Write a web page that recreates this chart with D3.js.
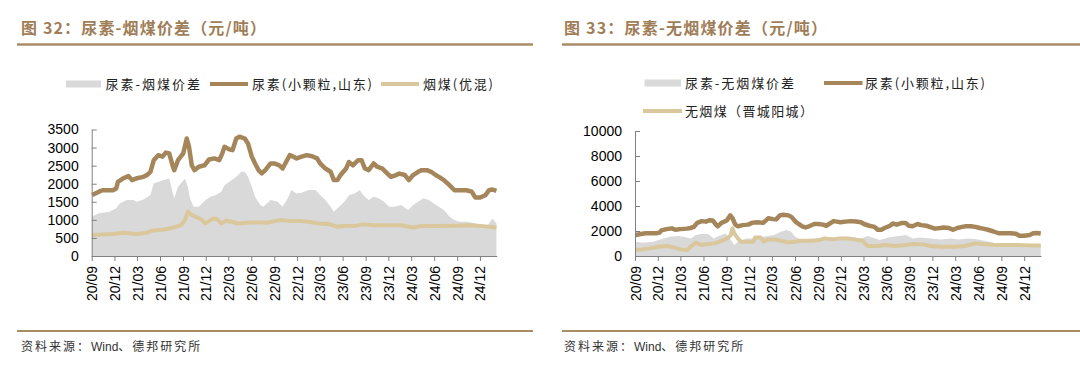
<!DOCTYPE html>
<html>
<head>
<meta charset="utf-8">
<script src="https://cdn.jsdelivr.net/npm/d3@7"></script>
<style>
  body { margin: 0; background: #fff; }
  svg { display: block; }
  .axis text { font-family: "Liberation Sans", Arial, sans-serif; font-size: 14px; fill: #000; }
  .axis path, .axis line { stroke: #808080; }
  .cjk { font-family: "Noto Sans CJK SC", sans-serif; }
</style>
</head>
<body>
<svg id="chart" width="1080" height="378"></svg>
<script>
(function (d3) {
  'use strict';

  // x 轴季度刻度
  const tickLabels = ['20/09', '20/12', '21/03', '21/06', '21/09', '21/12', '22/03', '22/06',
    '22/09', '22/12', '23/03', '23/06', '23/09', '23/12', '24/03', '24/06', '24/09', '24/12'];

  // 尿素(小颗粒,山东) — 两张图共用
  const ureaShandong = [
    ['2020-09-03', 1685], ['2020-09-30', 1780], ['2020-10-14', 1820], ['2020-11-25', 1820],
    ['2020-12-08', 1870], ['2020-12-15', 2050], ['2021-01-05', 2150], ['2021-01-26', 2210],
    ['2021-02-09', 2100], ['2021-02-28', 2150], ['2021-03-27', 2190], ['2021-04-10', 2240],
    ['2021-04-24', 2330], ['2021-05-07', 2650], ['2021-05-25', 2790], ['2021-06-11', 2750],
    ['2021-06-24', 2860], ['2021-07-08', 2840], ['2021-07-21', 2510], ['2021-07-28', 2375],
    ['2021-08-12', 2650], ['2021-09-02', 2840], ['2021-09-16', 3250], ['2021-09-25', 3020],
    ['2021-10-06', 2510], ['2021-10-17', 2375], ['2021-11-03', 2470], ['2021-11-26', 2510],
    ['2021-12-14', 2670], ['2022-01-04', 2700], ['2022-01-24', 2650], ['2022-02-05', 2840],
    ['2022-02-14', 3020], ['2022-03-05', 2950], ['2022-03-18', 2930], ['2022-04-02', 3250],
    ['2022-04-15', 3300], ['2022-05-06', 3250], ['2022-05-19', 3110], ['2022-06-03', 2750],
    ['2022-06-16', 2560], ['2022-06-30', 2375], ['2022-07-13', 2285], ['2022-07-27', 2375],
    ['2022-08-17', 2560], ['2022-09-01', 2560], ['2022-09-21', 2510], ['2022-10-04', 2420],
    ['2022-10-18', 2600], ['2022-11-02', 2790], ['2022-11-15', 2750], ['2022-11-29', 2700],
    ['2022-12-19', 2750], ['2023-01-09', 2790], ['2023-01-30', 2760], ['2023-02-19', 2700],
    ['2023-03-03', 2560], ['2023-03-24', 2420], ['2023-04-14', 2330], ['2023-04-27', 2100],
    ['2023-05-11', 2100], ['2023-05-24', 2240], ['2023-06-15', 2420], ['2023-06-26', 2600],
    ['2023-07-12', 2510], ['2023-08-02', 2650], ['2023-08-16', 2650], ['2023-08-29', 2420],
    ['2023-09-13', 2375], ['2023-10-03', 2560], ['2023-10-17', 2470], ['2023-11-07', 2420],
    ['2023-11-20', 2330], ['2023-12-11', 2190], ['2024-01-01', 2240], ['2024-01-14', 2280],
    ['2024-02-05', 2240], ['2024-02-21', 2100], ['2024-03-09', 2240], ['2024-03-29', 2330],
    ['2024-04-12', 2375], ['2024-05-03', 2375], ['2024-05-20', 2330], ['2024-06-07', 2240],
    ['2024-06-20', 2190], ['2024-07-10', 2100], ['2024-08-01', 1960], ['2024-08-21', 1820],
    ['2024-09-11', 1820], ['2024-10-08', 1820], ['2024-10-29', 1780], ['2024-11-12', 1620],
    ['2024-12-02', 1620], ['2024-12-23', 1685], ['2025-01-06', 1820], ['2025-01-20', 1840],
    ['2025-02-05', 1800]
  ];

  // 烟煤(优混)
  const bituminousCoal = [
    ['2020-09-03', 580], ['2020-11-25', 610], ['2021-01-05', 645], ['2021-02-28', 610],
    ['2021-04-10', 645], ['2021-04-30', 700], ['2021-06-17', 735], ['2021-07-28', 790],
    ['2021-08-25', 855], ['2021-09-09', 995], ['2021-09-20', 1225], ['2021-10-06', 1130],
    ['2021-10-26', 1070], ['2021-11-16', 995], ['2021-11-30', 900], ['2021-12-20', 995],
    ['2022-01-04', 1040], ['2022-01-17', 1010], ['2022-02-01', 900], ['2022-02-21', 975],
    ['2022-03-18', 940], ['2022-04-09', 900], ['2022-05-13', 920], ['2022-06-10', 930],
    ['2022-07-07', 930], ['2022-08-04', 920], ['2022-09-01', 965], ['2022-09-28', 995],
    ['2022-11-08', 965], ['2022-12-19', 965], ['2023-01-16', 950], ['2023-02-26', 900],
    ['2023-04-07', 885], ['2023-05-11', 810], ['2023-06-01', 830], ['2023-07-25', 840],
    ['2023-08-22', 875], ['2023-10-03', 850], ['2023-11-27', 850], ['2024-01-21', 850],
    ['2024-02-18', 810], ['2024-03-09', 790], ['2024-04-12', 830], ['2024-06-20', 830],
    ['2024-08-28', 840], ['2024-10-22', 850], ['2024-12-02', 830], ['2025-02-05', 790]
  ];

  // 尿素-烟煤价差
  const spreadBituminous = [
    ['2020-09-03', 1090], ['2020-09-30', 1180], ['2020-11-11', 1225], ['2020-12-08', 1320],
    ['2020-12-22', 1455], ['2021-01-19', 1550], ['2021-02-15', 1550], ['2021-02-28', 1500],
    ['2021-03-27', 1565], ['2021-04-24', 1685], ['2021-05-07', 2010], ['2021-05-28', 2055],
    ['2021-06-17', 2100], ['2021-07-08', 2145], ['2021-07-21', 1780], ['2021-07-28', 1595],
    ['2021-08-12', 1915], ['2021-09-09', 2145], ['2021-09-20', 1915], ['2021-09-29', 1595],
    ['2021-10-13', 1365], ['2021-11-03', 1365], ['2021-11-30', 1550], ['2021-12-20', 1640],
    ['2022-01-11', 1685], ['2022-02-01', 1780], ['2022-02-14', 1960], ['2022-03-05', 2055],
    ['2022-04-02', 2190], ['2022-04-22', 2330], ['2022-05-06', 2330], ['2022-05-19', 2190],
    ['2022-06-03', 1915], ['2022-06-16', 1640], ['2022-07-07', 1410], ['2022-07-20', 1365],
    ['2022-08-17', 1550], ['2022-09-14', 1500], ['2022-10-04', 1365], ['2022-10-25', 1595],
    ['2022-11-08', 1825], ['2022-11-29', 1730], ['2022-12-19', 1750], ['2023-01-16', 1825],
    ['2023-02-13', 1825], ['2023-03-03', 1685], ['2023-03-24', 1550], ['2023-04-14', 1365],
    ['2023-04-27', 1225], ['2023-05-18', 1365], ['2023-06-08', 1500], ['2023-06-28', 1685],
    ['2023-07-19', 1730], ['2023-08-09', 1825], ['2023-08-22', 1685], ['2023-09-13', 1550],
    ['2023-10-03', 1640], ['2023-10-23', 1595], ['2023-11-14', 1500], ['2023-12-04', 1365],
    ['2023-12-24', 1365], ['2024-01-21', 1410], ['2024-02-18', 1270], ['2024-03-09', 1410],
    ['2024-03-29', 1500], ['2024-04-19', 1595], ['2024-05-10', 1550], ['2024-05-30', 1455],
    ['2024-06-20', 1365], ['2024-07-10', 1270], ['2024-08-01', 1090], ['2024-08-21', 995],
    ['2024-09-11', 950], ['2024-10-08', 950], ['2024-11-16', 900], ['2024-11-30', 765],
    ['2024-12-27', 765], ['2025-01-06', 900], ['2025-01-20', 1040], ['2025-02-05', 900]
  ];

  // 无烟煤（晋城阳城）
  const anthraciteCoal = [
    ['2020-09-01', 480], ['2020-10-01', 530], ['2020-10-28', 610], ['2020-12-02', 745],
    ['2021-01-06', 800], ['2021-02-03', 690], ['2021-03-01', 530], ['2021-03-28', 480],
    ['2021-04-11', 745], ['2021-05-02', 1065], ['2021-05-23', 880], ['2021-06-20', 960],
    ['2021-07-17', 1010], ['2021-08-14', 1225], ['2021-09-05', 1410], ['2021-09-18', 1675],
    ['2021-09-25', 2210], ['2021-10-02', 1810], ['2021-10-16', 1410], ['2021-10-29', 1145],
    ['2021-11-20', 1145], ['2021-12-17', 1145], ['2021-12-24', 1490], ['2022-01-14', 1490],
    ['2022-01-28', 1145], ['2022-02-11', 1330], ['2022-03-09', 1330], ['2022-04-06', 1225],
    ['2022-05-04', 1090], ['2022-06-01', 1145], ['2022-06-28', 1225], ['2022-08-09', 1225],
    ['2022-09-06', 1275], ['2022-09-27', 1410], ['2022-11-01', 1330], ['2022-11-28', 1410],
    ['2022-12-25', 1410], ['2023-01-23', 1330], ['2023-02-26', 1225], ['2023-03-17', 800],
    ['2023-04-28', 800], ['2023-05-25', 880], ['2023-07-06', 800], ['2023-08-17', 880],
    ['2023-09-14', 960], ['2023-10-25', 930], ['2023-11-23', 800], ['2024-01-04', 745],
    ['2024-02-28', 745], ['2024-04-09', 800], ['2024-05-20', 1010], ['2024-06-17', 960],
    ['2024-07-28', 905], ['2024-09-09', 880], ['2024-11-04', 880], ['2024-12-28', 850],
    ['2025-02-05', 850]
  ];

  // 尿素-无烟煤价差
  const spreadAnthracite = [
    ['2020-09-01', 1145], ['2020-10-01', 1065], ['2020-11-12', 1145], ['2020-12-23', 1410],
    ['2021-01-20', 1540], ['2021-02-17', 1600], ['2021-03-14', 1540], ['2021-04-11', 1410],
    ['2021-05-02', 1675], ['2021-05-23', 1755], ['2021-06-20', 1755], ['2021-07-11', 1410],
    ['2021-08-01', 1600], ['2021-08-28', 1810], ['2021-09-18', 1275], ['2021-10-02', 880],
    ['2021-10-16', 1145], ['2021-11-20', 1410], ['2021-12-17', 1410], ['2022-01-14', 1490],
    ['2022-02-11', 1600], ['2022-03-09', 1675], ['2022-04-06', 1940], ['2022-04-27', 2075],
    ['2022-05-17', 1940], ['2022-06-01', 1540], ['2022-06-28', 1275], ['2022-08-09', 1410],
    ['2022-09-20', 1275], ['2022-10-17', 1490], ['2022-11-28', 1540], ['2023-01-09', 1540],
    ['2023-02-20', 1410], ['2023-03-17', 1600], ['2023-04-08', 1465], ['2023-05-05', 1275],
    ['2023-06-09', 1490], ['2023-07-20', 1600], ['2023-08-17', 1675], ['2023-09-14', 1410],
    ['2023-10-12', 1490], ['2023-11-23', 1410], ['2024-01-04', 1330], ['2024-02-14', 1410],
    ['2024-03-12', 1330], ['2024-04-23', 1410], ['2024-05-20', 1355], ['2024-07-01', 1195],
    ['2024-08-12', 1010], ['2024-09-23', 930], ['2024-11-04', 880], ['2024-12-01', 745],
    ['2024-12-28', 800], ['2025-01-26', 1010], ['2025-02-05', 930]
  ];

  const COLORS = {
    spread: '#d9d9d9',
    urea: '#a5865b',
    coal: '#dac89c',
    title: '#9f7e58',
    rule: '#a98c68',
    text: '#222'
  };

  const parseDate = d3.timeParse('%Y-%m-%d');
  const parseTick = d3.timeParse('%y/%m');
  const X_DOMAIN = [parseDate('2020-09-01'), parseDate('2025-02-06')];
  const BASE_Y = 256;

  const svg = d3.select('#chart');

  const legendItem = (g, kind, x1, x2, y, label, textX, textLen) => {
    if (kind === 'area') {
      g.append('rect').attr('x', x1).attr('y', y - 3.5).attr('width', x2 - x1).attr('height', 7)
        .attr('fill', COLORS.spread);
    } else {
      g.append('line').attr('x1', x1).attr('x2', x2).attr('y1', y).attr('y2', y)
        .attr('stroke', COLORS[kind]).attr('stroke-width', 4);
    }
    g.append('text').attr('class', 'cjk').attr('x', textX).attr('y', y).attr('dy', '0.36em')
      .attr('font-size', 13).attr('fill', COLORS.text)
      .attr('textLength', textLen).attr('lengthAdjust', 'spacing')
      .text(label);
  };

  const drawPanel = (opts) => {
    const g = svg.append('g');

    // 标题 + 上下分隔线
    g.append('text').attr('class', 'cjk').attr('x', opts.titleX).attr('y', 34)
      .attr('font-size', 16).attr('font-weight', 'bold').attr('fill', COLORS.title)
      .attr('textLength', opts.titleLen).attr('lengthAdjust', 'spacing')
      .text(opts.title);
    g.append('line').attr('x1', opts.ruleX[0]).attr('x2', opts.ruleX[1]).attr('y1', 44.5).attr('y2', 44.5)
      .attr('stroke', COLORS.rule).attr('stroke-width', 2.5);
    g.append('line').attr('x1', opts.ruleX[0]).attr('x2', opts.ruleX[1]).attr('y1', 331).attr('y2', 331)
      .attr('stroke', COLORS.rule).attr('stroke-width', 2);

    const src = g.append('text').attr('class', 'cjk').attr('x', opts.titleX).attr('y', 351)
      .attr('font-size', 12).attr('fill', '#333');
    src.append('tspan').attr('letter-spacing', 2).text('资料来源：');
    src.append('tspan').attr('font-family', '"Liberation Sans", Arial, sans-serif').text('Wind');
    src.append('tspan').attr('letter-spacing', 2).text('、德邦研究所');

    opts.legend.forEach(l => legendItem(g, ...l));

    const x = d3.scaleTime().domain(X_DOMAIN).range([opts.left, opts.right]);
    const y = d3.scaleLinear().domain([0, opts.yMax]).range([BASE_Y, opts.top]);

    const area = d3.area()
      .x(d => x(parseDate(d[0])))
      .y0(y(0))
      .y1(d => y(d[1]));
    const line = d3.line()
      .x(d => x(parseDate(d[0])))
      .y(d => y(d[1]));

    g.append('path').datum(opts.spread).attr('d', area).attr('fill', COLORS.spread);
    g.append('path').datum(opts.coal).attr('d', line)
      .attr('fill', 'none').attr('stroke', COLORS.coal).attr('stroke-width', 4)
      .attr('stroke-linejoin', 'round');
    g.append('path').datum(ureaShandong).attr('d', line)
      .attr('fill', 'none').attr('stroke', COLORS.urea).attr('stroke-width', 4.5)
      .attr('stroke-linejoin', 'round');

    // y 轴：刻度朝内
    g.append('g').attr('class', 'axis')
      .attr('transform', `translate(${opts.left},0)`)
      .call(d3.axisLeft(y).tickValues(d3.range(0, opts.yMax + 1, opts.yStep))
        .tickSizeInner(-5).tickSizeOuter(0).tickPadding(13).tickFormat(d3.format('d')));

    // x 轴：季度标签竖排
    g.append('g').attr('class', 'axis')
      .attr('transform', `translate(0,${BASE_Y})`)
      .call(d3.axisBottom(x).tickValues(tickLabels.map(parseTick))
        .tickSizeInner(5).tickSizeOuter(0).tickFormat(d3.timeFormat('%y/%m')))
      .selectAll('text')
      .attr('transform', 'rotate(-90)')
      .attr('text-anchor', 'end')
      .attr('x', -10)
      .attr('y', 0)
      .attr('dy', '0.36em');
  };

  drawPanel({
    title: '图 32：尿素-烟煤价差（元/吨）',
    titleX: 21, titleLen: 245, ruleX: [17, 533],
    left: 91.7, right: 496.7, top: 129.5, yMax: 3500, yStep: 500,
    spread: spreadBituminous, coal: bituminousCoal,
    legend: [
      ['area', 66, 101, 84, '尿素-烟煤价差', 105.5, 94.5],
      ['urea', 210, 248, 84, '尿素(小颗粒,山东)', 252, 120],
      ['coal', 381, 419, 84, '烟煤(优混)', 423, 70]
    ]
  });

  drawPanel({
    title: '图 33：尿素-无烟煤价差（元/吨）',
    titleX: 564, titleLen: 263, ruleX: [562, 1080],
    left: 635, right: 1041, top: 131, yMax: 10000, yStep: 2000,
    spread: spreadAnthracite, coal: anthraciteCoal,
    legend: [
      ['area', 644.5, 681, 83, '尿素-无烟煤价差', 685, 109],
      ['urea', 824, 862.5, 83, '尿素(小颗粒,山东)', 865, 120],
      ['coal', 643, 682, 111, '无烟煤（晋城阳城）', 685, 128]
    ]
  });

}(d3));
</script>
</body>
</html>
